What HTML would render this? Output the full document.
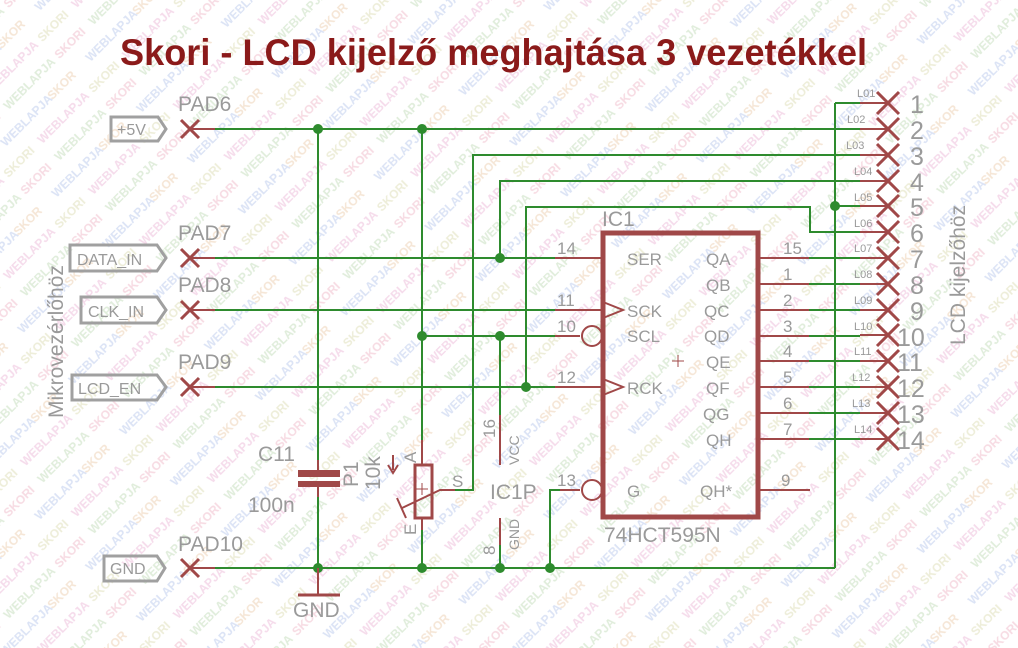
<!DOCTYPE html>
<html><head><meta charset="utf-8"><style>
html,body{margin:0;padding:0;background:#fff}
svg{display:block}
text{font-family:"Liberation Sans",sans-serif}
</style></head><body>
<svg width="1018" height="648" viewBox="0 0 1018 648" xmlns="http://www.w3.org/2000/svg">
<defs>
<pattern id="wm" width="120" height="72" patternUnits="userSpaceOnUse" patternTransform="rotate(-45)">
<text x="0" y="12" font-size="12" font-weight="bold" fill="#f2c8d4">SKORI</text>
<text x="48" y="12" font-size="12" font-weight="bold" fill="#cfe3c8">WEBLAPJA</text>
<text x="20" y="36" font-size="12" font-weight="bold" fill="#c8d4f0">WEBLAPJA</text>
<text x="86" y="36" font-size="12" font-weight="bold" fill="#f0d8c0">SKORI</text>
<text x="0" y="60" font-size="12" font-weight="bold" fill="#e4e4c4">SKORI</text>
<text x="48" y="60" font-size="12" font-weight="bold" fill="#f0c8e0">WEBLAPJA</text>
</pattern>
</defs>
<rect width="1018" height="648" fill="url(#wm)" opacity="0.65"/>

<text x="120" y="65" font-size="37" font-weight="bold" fill="#8b1a1a" textLength="747" lengthAdjust="spacingAndGlyphs">Skori - LCD kijelző meghajtása 3 vezetékkel</text>

<!-- green wires -->
<g stroke="#2e8b2e" stroke-width="2" fill="none">
<line x1="205" y1="129" x2="860" y2="129"/>
<line x1="205" y1="258" x2="555" y2="258"/>
<line x1="205" y1="310" x2="555" y2="310"/>
<line x1="205" y1="387" x2="555" y2="387"/>
<line x1="205" y1="568" x2="835" y2="568"/>
<line x1="422" y1="336" x2="555" y2="336"/>
<line x1="318" y1="129" x2="318" y2="460"/>
<line x1="318" y1="497" x2="318" y2="568"/>
<line x1="422" y1="129" x2="422" y2="440"/>
<line x1="422" y1="530" x2="422" y2="568"/>
<polyline points="860,155 473,155 473,490 455,490"/>
<polyline points="860,181 500,181 500,258"/>
<line x1="500" y1="336" x2="500" y2="415"/>
<line x1="500" y1="545" x2="500" y2="568"/>
<polyline points="526,387 526,207 810,207 810,232 860,232"/>
<line x1="835" y1="103" x2="835" y2="568"/>
<line x1="835" y1="103" x2="860" y2="103"/>
<line x1="835" y1="206" x2="860" y2="206"/>
<polyline points="550,568 550,490 560,490"/>
<line x1="809" y1="258" x2="860" y2="258"/>
<line x1="809" y1="284" x2="860" y2="284"/>
<line x1="809" y1="310" x2="860" y2="310"/>
<line x1="809" y1="336" x2="860" y2="336"/>
<line x1="809" y1="361" x2="860" y2="361"/>
<line x1="809" y1="387" x2="860" y2="387"/>
<line x1="809" y1="413" x2="860" y2="413"/>
<line x1="809" y1="439" x2="860" y2="439"/>
</g>
<g fill="#2e8b2e">
<circle cx="318" cy="129" r="5"/><circle cx="422" cy="129" r="5"/>
<circle cx="318" cy="568" r="5"/><circle cx="422" cy="568" r="5"/>
<circle cx="500" cy="568" r="5"/><circle cx="550" cy="568" r="5"/>
<circle cx="835" cy="206" r="5"/><circle cx="500" cy="258" r="5"/>
<circle cx="422" cy="336" r="5"/><circle cx="500" cy="336" r="5"/>
<circle cx="526" cy="387" r="5"/>
</g>

<!-- red parts -->
<g stroke="#a04848" stroke-width="2" fill="none">
<line x1="190" y1="129" x2="215" y2="129"/>
<line x1="190" y1="258" x2="215" y2="258"/>
<line x1="190" y1="310" x2="215" y2="310"/>
<line x1="190" y1="387" x2="215" y2="387"/>
<line x1="190" y1="568" x2="215" y2="568"/>
<g stroke-width="3">
<path d="M181,120 l18,18 M199,120 l-18,18"/>
<path d="M181,249 l18,18 M199,249 l-18,18"/>
<path d="M181,301 l18,18 M199,301 l-18,18"/>
<path d="M181,378 l18,18 M199,378 l-18,18"/>
<path d="M181,559 l18,18 M199,559 l-18,18"/>
</g>
<g id="lp">
<line x1="860" y1="103" x2="888" y2="103"/>
<path d="M877,92 l22,22 M899,92 l-22,22" stroke-width="3"/>
</g>
<use href="#lp" y="26"/><use href="#lp" y="52"/><use href="#lp" y="78"/>
<use href="#lp" y="103"/><use href="#lp" y="129"/><use href="#lp" y="155"/>
<use href="#lp" y="181"/><use href="#lp" y="207"/><use href="#lp" y="232"/>
<use href="#lp" y="258"/><use href="#lp" y="284"/><use href="#lp" y="310"/>
<use href="#lp" y="336"/>
<rect x="603" y="233" width="155" height="284" stroke-width="5"/>
<line x1="555" y1="258" x2="603" y2="258"/>
<line x1="555" y1="310" x2="603" y2="310"/>
<line x1="555" y1="336" x2="580" y2="336"/>
<circle cx="592" cy="336" r="10"/>
<line x1="555" y1="387" x2="603" y2="387"/>
<polyline points="603,302 623,310 603,318"/>
<polyline points="603,379 623,387 603,395"/>
<line x1="560" y1="490" x2="580" y2="490"/>
<circle cx="592" cy="490" r="10"/>
<line x1="758" y1="258" x2="809" y2="258"/>
<line x1="758" y1="284" x2="809" y2="284"/>
<line x1="758" y1="310" x2="809" y2="310"/>
<line x1="758" y1="336" x2="809" y2="336"/>
<line x1="758" y1="361" x2="809" y2="361"/>
<line x1="758" y1="387" x2="809" y2="387"/>
<line x1="758" y1="413" x2="809" y2="413"/>
<line x1="758" y1="439" x2="809" y2="439"/>
<line x1="758" y1="490" x2="810" y2="490"/>
<line x1="678" y1="355" x2="678" y2="367" stroke-width="1"/><line x1="672" y1="361" x2="684" y2="361" stroke-width="1"/>
<line x1="318" y1="460" x2="318" y2="470"/>
<line x1="318" y1="487" x2="318" y2="497"/>
<rect x="298" y="470" width="42" height="7" fill="#a04848" stroke="none"/>
<rect x="298" y="481" width="42" height="6" fill="#a04848" stroke="none"/>
<line x1="422" y1="440" x2="422" y2="465"/>
<line x1="422" y1="518" x2="422" y2="530"/>
<rect x="415" y="465" width="17" height="53" stroke-width="3"/>
<polyline points="402,508 440,490 455,490"/>
<line x1="397" y1="498" x2="406" y2="518"/>
<path d="M393,455 v15 M388,465 l5,8 5,-8"/>
<line x1="422" y1="483" x2="422" y2="495" stroke-width="1"/><line x1="416" y1="489" x2="428" y2="489" stroke-width="1"/>
<line x1="500" y1="415" x2="500" y2="465"/>
<line x1="500" y1="518" x2="500" y2="545"/>
<line x1="318" y1="568" x2="318" y2="595"/>
<line x1="298" y1="595" x2="340" y2="595" stroke-width="3"/>
</g>

<g stroke="#a0a0a0" stroke-width="3" fill="none">
<polygon points="111,117 158,117 166,129 158,141 111,141"/>
<polygon points="70,245 157,245 166,258 157,271 70,271"/>
<polygon points="81,297 157,297 166,310 157,323 81,323"/>
<polygon points="72,375 157,375 166,387 157,400 72,400"/>
<polygon points="104,556 157,556 165,568 157,581 104,581"/>
</g>
<g fill="#9a9a9a" font-size="16">
<text x="117" y="135">+5V</text>
<text x="77" y="265">DATA_IN</text>
<text x="88" y="317">CLK_IN</text>
<text x="78" y="394">LCD_EN</text>
<text x="110" y="574">GND</text>
</g>
<g fill="#9a9a9a" font-size="21">
<text x="178" y="111">PAD6</text>
<text x="178" y="240">PAD7</text>
<text x="178" y="292">PAD8</text>
<text x="178" y="369">PAD9</text>
<text x="178" y="551">PAD10</text>
<text x="602" y="226">IC1</text>
<text x="604" y="542">74HCT595N</text>
<text x="258" y="461">C11</text>
<text x="248" y="512">100n</text>
<text x="293" y="617">GND</text>
<text x="490" y="499">IC1P</text>
<text transform="translate(63,418) rotate(-90)">Mikrovezérlőhöz</text>
<text transform="translate(965,345) rotate(-90)">LCD kijelzőhöz</text>
<text transform="translate(358,487) rotate(-90)">P1</text>
<text transform="translate(380,490) rotate(-90)">10k</text>
</g>
<g fill="#9a9a9a" font-size="17">
<text x="627" y="265">SER</text>
<text x="627" y="317">SCK</text>
<text x="627" y="342">SCL</text>
<text x="627" y="394">RCK</text>
<text x="627" y="497">G</text>
<text x="700" y="497">QH*</text>
<text x="706" y="265">QA</text><text x="706" y="291">QB</text>
<text x="704" y="317">QC</text><text x="704" y="342">QD</text>
<text x="706" y="368">QE</text><text x="706" y="394">QF</text>
<text x="703" y="420">QG</text><text x="706" y="446">QH</text>
<text x="557" y="254">14</text><text x="557" y="306">11</text>
<text x="557" y="332">10</text><text x="557" y="383">12</text>
<text x="557" y="486">13</text>
<text x="783" y="254">15</text><text x="783" y="280">1</text>
<text x="783" y="306">2</text><text x="783" y="332">3</text>
<text x="783" y="357">4</text><text x="783" y="383">5</text>
<text x="783" y="409">6</text><text x="783" y="435">7</text>
<text x="781" y="486">9</text>
<text x="452" y="487">S</text>
<text transform="translate(416,463) rotate(-90)">A</text>
<text transform="translate(416,535) rotate(-90)">E</text>
<text transform="translate(495,438) rotate(-90)">16</text>
<text transform="translate(495,555) rotate(-90)">8</text>
</g>
<g fill="#9a9a9a" font-size="14">
<text transform="translate(519,465) rotate(-90)">VCC</text>
<text transform="translate(519,550) rotate(-90)">GND</text>
</g>
<g fill="#9a9a9a" font-size="25">
<text x="910" y="113">1</text><text x="910" y="139">2</text><text x="910" y="165">3</text>
<text x="910" y="191">4</text><text x="910" y="216">5</text><text x="910" y="242">6</text>
<text x="910" y="268">7</text><text x="910" y="294">8</text><text x="910" y="320">9</text>
<text x="897" y="346">10</text><text x="897" y="371">11</text><text x="897" y="397">12</text>
<text x="897" y="423">13</text><text x="897" y="449">14</text>
</g>
<g fill="#9a9a9a" font-size="11">
<text x="857" y="97">L01</text><text x="847" y="123">L02</text><text x="846" y="149">L03</text>
<text x="854" y="175">L04</text><text x="854" y="201">L05</text><text x="854" y="227">L06</text>
<text x="854" y="252">L07</text><text x="854" y="278">L08</text><text x="854" y="304">L09</text>
<text x="854" y="330">L10</text><text x="854" y="355">L11</text><text x="852" y="381">L12</text>
<text x="852" y="407">L13</text><text x="854" y="433">L14</text>
</g>
</svg>
</body></html>
